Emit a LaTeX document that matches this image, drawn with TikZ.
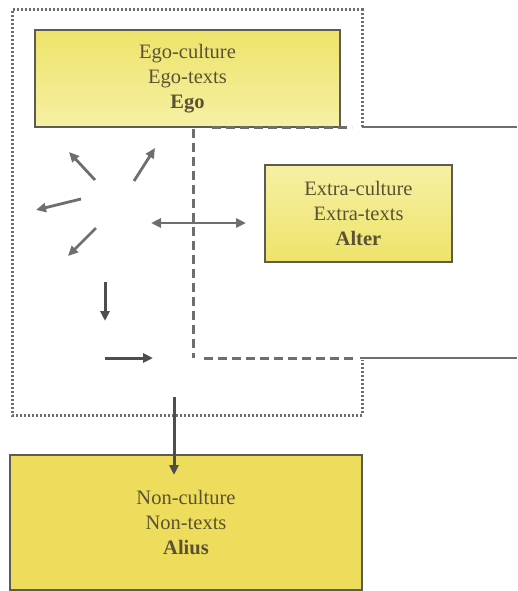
\documentclass[tikz,border=0pt]{standalone}
\usepackage{fontspec}
\setmainfont{Liberation Serif}
\usetikzlibrary{arrows.meta,shadows}
\definecolor{txt}{HTML}{5A5234}
\definecolor{bord}{HTML}{5C5C50}
\definecolor{lg}{HTML}{6E6E6E}
\definecolor{dg}{HTML}{4E4E4E}
\definecolor{ytop}{HTML}{EEE36A}
\definecolor{ybot}{HTML}{F6F0A4}
\definecolor{ydeep}{HTML}{EEDC5C}
\tikzset{
  box/.style={draw=bord, line width=1.2pt, inner sep=0pt, text=txt, align=center,
    font=\fontsize{20.5}{25}\selectfont, drop shadow={opacity=0.25, shadow xshift=1.2pt, shadow yshift=-1.2pt}},
  dotline/.style={draw=lg, line width=3pt, dash pattern=on 2pt off 2pt},
  dashline/.style={draw=lg, line width=3pt, dash pattern=on 9pt off 5pt},
  solidline/.style={draw=lg, line width=2.6pt},
  tip/.style={},
  arr/.style={draw=lg, line width=2.8pt, -{Triangle[length=10pt,width=9pt]}},
  darr/.style={draw=dg, line width=3pt, -{Triangle[length=10pt,width=9pt]}},
  barr/.style={draw=lg, line width=2.8pt, {Triangle[length=10pt,width=9pt]}-{Triangle[length=10pt,width=9pt]}}
}
\begin{document}
\begin{tikzpicture}[x=1pt,y=-1pt]
\useasboundingbox (0,0) rectangle (517,591);
% boxes
\node[box, minimum width=305pt, minimum height=97pt, top color=ytop, bottom color=ybot] (ego) at (187.5,78.5)
  {Ego-culture\\Ego-texts\\\textbf{Ego}};
\node[box, minimum width=187pt, minimum height=97pt, top color=ybot, bottom color=ytop] (alter) at (358.5,213.5)
  {Extra-culture\\Extra-texts\\\textbf{Alter}};
\node[box, minimum width=352pt, minimum height=135pt, fill=ydeep, line width=2.4pt] (alius) at (186,522.5)
  {Non-culture\\Non-texts\\\textbf{Alius}};
% coordinates for the boundary lines
\coordinate (d1) at (212,127);
\coordinate (d2) at (352,127);
\coordinate (s1) at (362,127);
\coordinate (s2) at (517,127);
\coordinate (v1) at (193,129);
\coordinate (v2) at (193,358);
\coordinate (h1) at (204,358);
\coordinate (h2) at (356,358);
\coordinate (s3) at (360,358);
\coordinate (s4) at (517,358);
\coordinate (o1) at (362,127);
\coordinate (o2) at (362,10);
\coordinate (o3) at (12,10);
\coordinate (o4) at (12,415);
\coordinate (o5) at (362,415);
\coordinate (o6) at (362,360);
% dotted outer boundary
\draw[dotline] (o1) -- (o2) -- (o3) -- (o4) -- (o5) -- (o6);
% dashed lines
\draw[dashline] (d1) -- (d2);
\draw[dashline] (v1) -- (v2);
\draw[dashline] (h1) -- (h2);
% solid lines
\draw[solidline] (s1) -- (s2);
\draw[solidline] (s3) -- (s4);
% arrows
\coordinate (a1s) at (95,180); \coordinate (a1e) at (69,152);
\coordinate (a2s) at (134,181); \coordinate (a2e) at (155,148);
\coordinate (a3s) at (81,199); \coordinate (a3e) at (36,210);
\coordinate (a4s) at (96,228); \coordinate (a4e) at (68,256);
\coordinate (a5s) at (105,282); \coordinate (a5e) at (105,321);
\coordinate (a6s) at (105,358); \coordinate (a6e) at (153,358);
\coordinate (b1) at (151,223); \coordinate (b2) at (246,223);
\draw[arr] (a1s) -- (a1e);
\draw[arr] (a2s) -- (a2e);
\draw[arr] (a3s) -- (a3e);
\draw[arr] (a4s) -- (a4e);
\draw[darr] (a5s) -- (a5e);
\draw[darr] (a6s) -- (a6e);
\draw[barr] (b1) -- (b2);
% arrow to Alius
\coordinate (t1) at (174,397);
\draw[darr] (t1) -- (174,475);
\end{tikzpicture}
\end{document}
